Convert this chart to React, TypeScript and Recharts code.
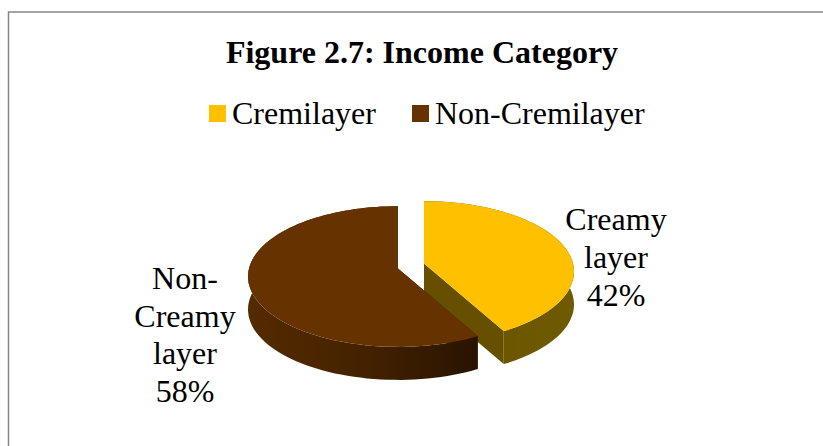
import { PieChart, Pie, Cell, Legend } from "recharts";

const legendNames = ["Cremilayer", "Non-Cremilayer"];
const sliceLabels = [
  ["Creamy", "layer", "42%"],
  ["Non-", "Creamy", "layer", "58%"],
];
const values = [42, 58];

const COLORS = ["#FFC000", "#663300"];
const WALLS: Record<string, string> = { "#FFC000": "url(#wallYellow)", "#663300": "url(#wallBrown)" };
const CUTS: Record<string, string> = { "#FFC000": "#665000", "#663300": "#3a1d00" };
// where each exploded slice's tip sits relative to the pie centre
const OFFSETS: Record<string, [number, number]> = { "#FFC000": [13, -2.5], "#663300": [-13, 2.5] };
const LABEL_POS = [
  { x: 616, y: 229.5, lineHeight: 38 },
  { x: 185, y: 289, lineHeight: 37.5 },
];

const TILT = 0.466;
const PERSPECTIVE = 0.114;
const DEPTH = 33;

const tableData = values.map((value, i) => ({ name: legendNames[i], value }));

// perspective view of a point on the pie's rim
const project = (cx: number, cy: number, r: number, deg: number) => {
  const clock = ((90 - deg) * Math.PI) / 180;
  const u = Math.sin(clock);
  const v = -Math.cos(clock);
  const k = 1 / (1 - PERSPECTIVE * v);
  return [cx + r * u * k, cy + r * TILT * v * k];
};

const toPath = (pts: number[][]) =>
  pts.map((p, i) => `${i ? "L" : "M"}${p[0].toFixed(1)} ${p[1].toFixed(1)}`).join(" ") + " Z";

const Slice3D = (props: any) => {
  const { cx, cy, outerRadius, startAngle, endAngle, fill } = props;
  const [dx, dy] = OFFSETS[fill] || [0, 0];
  const x0 = cx + dx;
  const y0 = cy + dy;
  const arc: number[][] = [];
  const steps = 90;
  for (let i = 0; i <= steps; i++) {
    arc.push(project(x0, y0, outerRadius, startAngle + ((endAngle - startAngle) * i) / steps));
  }
  const down = (p: number[]) => [p[0], p[1] + DEPTH];
  const apex = [x0, y0];
  const first = arc[0];
  const last = arc[arc.length - 1];
  return (
    <g>
      <path d={toPath([apex, first, down(first), down(apex)])} fill={CUTS[fill]} />
      <path d={toPath([apex, last, down(last), down(apex)])} fill={CUTS[fill]} />
      <path d={toPath([...arc, ...arc.slice().reverse().map(down)])} fill={WALLS[fill]} />
      <path d={toPath([apex, ...arc])} fill={fill} />
    </g>
  );
};

const renderLabel = (props: any) => {
  const pos = LABEL_POS[props.index];
  return (
    <text
      key={props.index}
      textAnchor="middle"
      fontFamily="Liberation Serif"
      fontSize={32}
      fill="#000"
    >
      {sliceLabels[props.index].map((line, i) => (
        <tspan key={line} x={pos.x} y={pos.y + i * pos.lineHeight}>
          {line}
        </tspan>
      ))}
    </text>
  );
};

export default function App() {
  return (
    <div style={{ position: "absolute", left: 0, top: 0, width: 823, height: 446, background: "#fff" }}>
      <PieChart width={823} height={446} margin={{ top: 0, right: 0, bottom: 0, left: 0 }}>
        <defs>
          <linearGradient id="wallBrown" gradientUnits="userSpaceOnUse" x1="246" x2="476" y1="0" y2="0">
            <stop offset="0" stopColor="#552b00" />
            <stop offset="0.5" stopColor="#442200" />
            <stop offset="1" stopColor="#291400" />
          </linearGradient>
          <linearGradient id="wallYellow" gradientUnits="userSpaceOnUse" x1="423" x2="570" y1="0" y2="0">
            <stop offset="0" stopColor="#665000" />
            <stop offset="1" stopColor="#705a00" />
          </linearGradient>
        </defs>
        <rect x={8.5} y={12} width={900} height={500} fill="none" stroke="#868686" strokeWidth={1.5} />
        <text
          x={422}
          y={63}
          textAnchor="middle"
          fontFamily="Liberation Serif"
          fontWeight="bold"
          fontSize={32}
          fill="#000"
        >
          Figure 2.7: Income Category
        </text>
        <Legend
          verticalAlign="top"
          align="left"
          iconType="square"
          iconSize={17}
          wrapperStyle={{ left: 209, top: 92, width: 480, fontFamily: "Liberation Serif", fontSize: 32 }}
          formatter={(value: string) => (
            <span style={{ color: "#000", paddingLeft: 2, paddingRight: 26, position: "relative", top: 3 }}>
              {value}
            </span>
          )}
        />
        <Pie
          data={tableData}
          dataKey="value"
          nameKey="name"
          cx={411}
          cy={229}
          outerRadius={149}
          startAngle={90}
          endAngle={-270}
          stroke="none"
          shape={Slice3D}
          label={renderLabel}
          labelLine={false}
          isAnimationActive={false}
        >
          {tableData.map((entry, index) => (
            <Cell key={`cell-${index}`} fill={COLORS[index]} />
          ))}
        </Pie>
      </PieChart>
    </div>
  );
}
